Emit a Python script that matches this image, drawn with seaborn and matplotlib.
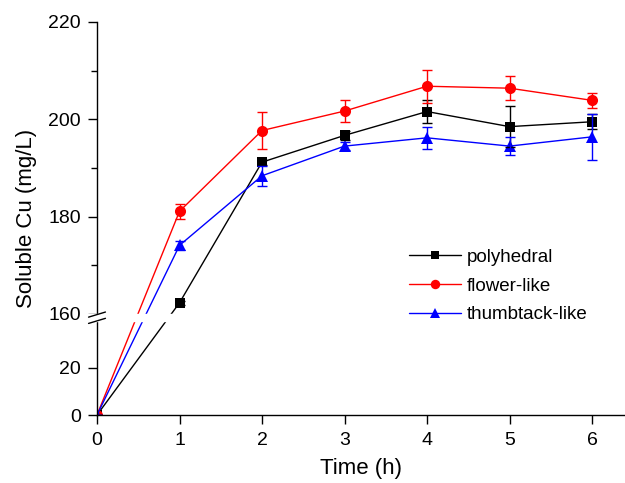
import numpy as np
import pandas as pd
import seaborn as sns
import matplotlib
matplotlib.use("Agg")
import matplotlib.pyplot as plt
from matplotlib.ticker import FixedLocator

# data
time_h = [0, 1, 2, 3, 4, 5, 6]
polyhedral = [0, 162.3, 191.2, 196.7, 201.6, 198.5, 199.5]
polyhedral_err = [0, 0.4, 0.5, 1.0, 2.4, 4.2, 1.5]
flower = [0, 181.1, 197.7, 201.7, 206.8, 206.4, 203.9]
flower_err = [0, 1.6, 3.8, 2.2, 3.4, 2.5, 1.6]
thumbtack = [0, 174.1, 188.4, 194.5, 196.2, 194.5, 196.4]
thumbtack_err = [0, 1.0, 2.0, 0.8, 2.2, 1.8, 4.7]

names = ["polyhedral", "flower-like", "thumbtack-like"]
colors = {"polyhedral": "black", "flower-like": "red", "thumbtack-like": "blue"}
markers = {"polyhedral": "s", "flower-like": "o", "thumbtack-like": "^"}

df = pd.DataFrame({
    "Time": time_h * 3,
    "Cu": polyhedral + flower + thumbtack,
    "err": polyhedral_err + flower_err + thumbtack_err,
    "shape": [n for n in names for _ in time_h],
})

sns.set_style("ticks")
plt.rcParams["font.family"] = ["Liberation Sans", "DejaVu Sans"]
for key in ["text.color", "axes.labelcolor", "xtick.color", "ytick.color",
            "axes.edgecolor"]:
    plt.rcParams[key] = "black"

# broken y axis: 0-40 squeezed at the bottom, 160-220 on top
vals = [0, 40, 160, 220]
pix = [0, 94, 101, 393]
def fwd(v):
    return np.interp(v, vals, pix)
def inv(p):
    return np.interp(p, pix, vals)

fig = plt.figure(figsize=(6.25, 4.83), dpi=100)
ax = fig.add_axes([97 / 625, 68 / 483, 528 / 625, 393 / 483])
ax.set_yscale("function", functions=(fwd, inv))

sns.lineplot(data=df, x="Time", y="Cu", hue="shape", style="shape",
             palette=colors, markers=markers, dashes=False, markersize=8,
             markeredgewidth=0, linewidth=1, ax=ax)
for ln in ax.lines:
    if ln.get_marker() == "s":
        ln.set_markersize(6.8)

for n in names:
    sub = df[df["shape"] == n]
    ax.errorbar(sub["Time"], sub["Cu"], yerr=sub["err"], fmt="none",
                ecolor=colors[n], elinewidth=1, capsize=3.5, capthick=1)

ax.set_xlim(0, 6.4)
ax.set_ylim(0, 220)
ax.set_xticks(time_h)
ax.yaxis.set_major_locator(FixedLocator([0, 20, 160, 180, 200, 220]))
ax.yaxis.set_minor_locator(FixedLocator([170, 190, 210]))
ax.tick_params(axis="both", which="major", direction="out", length=6.5,
               width=1, labelsize=14, pad=5)
ax.tick_params(axis="x", which="major", pad=6)
ax.tick_params(axis="y", which="minor", direction="out", length=4.3, width=1)
for s in ["top", "right"]:
    ax.spines[s].set_visible(False)
for s in ["left", "bottom"]:
    ax.spines[s].set_linewidth(1)

# white gap across the break and the two slashes
ax.axhspan(41, 159, xmin=-0.03, xmax=1, color="white", zorder=5, clip_on=False)
for yc in [0.2555, 0.2395]:
    ax.plot([-0.016, 0.016], [yc - 0.0065, yc + 0.0065], color="black",
            lw=1, transform=ax.transAxes, clip_on=False, zorder=6)

ax.set_xlabel("Time (h)", fontsize=16, labelpad=6)
ax.set_ylabel("Soluble Cu (mg/L)", fontsize=16, labelpad=8)

leg = ax.legend(title=None, frameon=False, loc="upper left",
                bbox_to_anchor=(0.576, 0.442), fontsize=13.5, handlelength=2.8,
                handletextpad=0.3, labelspacing=0.62, markerscale=0.85,
                borderaxespad=0)

fig.savefig("out.png", dpi=100)
